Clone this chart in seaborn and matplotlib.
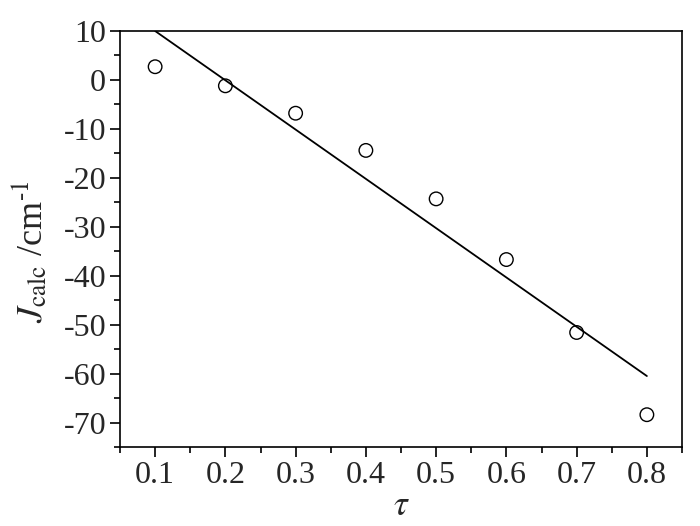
import matplotlib
matplotlib.use("Agg")
import matplotlib.pyplot as plt
import seaborn as sns
import pandas as pd
from matplotlib.ticker import MultipleLocator

tau = [0.1, 0.2, 0.3, 0.4, 0.5, 0.6, 0.7, 0.8]
j_calc = [2.7, -1.2, -6.8, -14.4, -24.3, -36.7, -51.6, -68.4]
fit_tau = [0.1, 0.8]
fit_j = [10.0, -60.5]
x_ticks = [0.1, 0.2, 0.3, 0.4, 0.5, 0.6, 0.7, 0.8]
x_labels = ["0.1", "0.2", "0.3", "0.4", "0.5", "0.6", "0.7", "0.8"]
y_ticks = [10, 0, -10, -20, -30, -40, -50, -60, -70]
y_labels = ["10", "0", "-10", "-20", "-30", "-40", "-50", "-60", "-70"]

sns.set_theme(style="ticks")
plt.rcParams['font.family'] = ['Liberation Serif', 'DejaVu Serif']
plt.rcParams['mathtext.fontset'] = 'stix'
plt.rcParams['axes.unicode_minus'] = False

fig = plt.figure(figsize=(7, 5.26), dpi=100)
ax = fig.add_axes([120/700, 79/526, 562/700, 416/526])

df = pd.DataFrame({"tau": tau, "j": j_calc})
fit = pd.DataFrame({"tau": fit_tau, "j": fit_j})
sns.lineplot(data=fit, x="tau", y="j", color="black", linewidth=1.3, ax=ax)
sns.scatterplot(data=df, x="tau", y="j", ax=ax, s=95, facecolors="none",
                edgecolor="black", linewidth=1.0, zorder=3)

ax.set_xlim(0.05, 0.85)
ax.set_ylim(-75, 10)
ax.xaxis.set_minor_locator(MultipleLocator(0.05))
ax.yaxis.set_minor_locator(MultipleLocator(5))
ax.set_xticks(x_ticks)
ax.set_xticklabels(x_labels, family='Liberation Serif')
ax.set_yticks(y_ticks)
ax.set_yticklabels(y_labels, family='Liberation Serif')
ax.tick_params(axis='both', which='major', direction='out', length=7, width=1.2,
               labelsize=23, color='black', pad=3)
ax.tick_params(axis='both', which='minor', direction='out', length=4, width=1.2,
               color='black')
for s in ax.spines.values():
    s.set_linewidth(1.2)
    s.set_color('black')

ax.set_xlabel(r"$\tau$", fontsize=25, labelpad=0)
ax.set_ylabel(r"$J_{\rm calc}$ /cm$^{\text{-}1}$", fontsize=26)
ax.yaxis.set_label_coords(-0.125, 0.47)

fig.savefig("out.png", dpi=100)
